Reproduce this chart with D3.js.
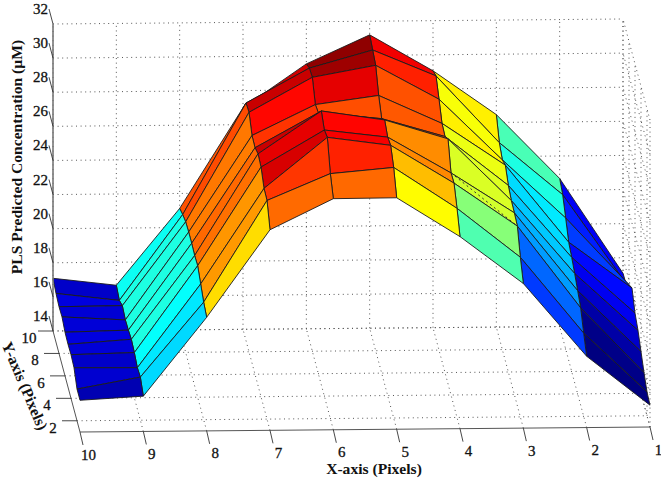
<!DOCTYPE html>
<html lang="en">
<head>
  <meta charset="UTF-8">
  <title>PLS Predicted Concentration</title>
  <script src="https://cdnjs.cloudflare.com/ajax/libs/d3/7.8.5/d3.min.js"></script>
  <style>
    html, body { margin: 0; padding: 0; background: #fff; }
    svg { display: block; }
    text { font-family: "Liberation Serif", serif; fill: #111; }
    .tick-label { font-size: 15px; stroke: #111; stroke-width: 0.3; }
    .axis-title { font-size: 15.6px; font-weight: bold; }
    .grid { fill: none; stroke: #555; stroke-width: 1; stroke-dasharray: 1 3.6; }
    .cell { stroke: #1c1c1c; stroke-width: 0.9; stroke-linejoin: round; }
  </style>
</head>
<body>
<div id="chart"></div>
<script>
var xTicks = [1, 2, 3, 4, 5, 6, 7, 8, 9, 10];
var yTicks = [2, 4, 6, 8, 10];
var zTicks = [14, 16, 18, 20, 22, 24, 26, 28, 30, 32];
var yValues = [1, 2, 3, 4, 5, 6, 7, 8, 9, 10];

// predicted concentration, one list per x pixel, y pixel 1 to 10
var zX1 = [15.28, 15.40, 15.87, 16.45, 17.03, 17.39, 18.20, 17.74, 17.15, 17.09];
var zX2 = [18.18, 18.88, 19.70, 20.05, 20.40, 20.69, 20.92, 21.68, 22.39, 22.68];
var zX3 = [22.48, 23.36, 24.53, 24.65, 24.71, 24.94, 25.47, 25.12, 25.47, 26.46];
var zX4 = [25.26, 26.26, 27.08, 27.02, 28.36, 27.84, 27.95, 28.71, 29.42, 29.06];
var zX5 = [27.57, 28.69, 29.33, 29.15, 29.50, 28.92, 29.62, 30.73, 30.97, 31.20];
var zX6 = [27.55, 28.36, 29.83, 29.60, 30.06, 29.30, 29.12, 30.06, 29.94, 29.53];
var zX7 = [25.76, 26.82, 26.87, 27.46, 27.58, 27.28, 27.34, 28.04, 27.93, 26.99];
var zX8 = [20.66, 20.89, 21.30, 21.71, 21.65, 21.71, 21.71, 21.65, 21.42, 21.12];
var zX9 = [16.07, 16.53, 16.42, 16.65, 16.77, 16.65, 16.59, 16.77, 16.42, 16.65];
var zX10 = [15.86, 15.86, 16.45, 16.56, 16.51, 16.56, 16.80, 16.74, 16.86, 17.09];
var surface = [zX1, zX2, zX3, zX4, zX5, zX6, zX7, zX8, zX9, zX10];

// two cells of the y=6 row read orange in the picture, lower than their corner height
var colourOverrides = [[4, 5, 28.0], [5, 5, 28.4]];

var width = 661, height = 480;

var svg = d3.select("#chart").append("svg")
  .attr("width", width)
  .attr("height", height);

// oblique view of the box, back wall at y=10, right wall at x=1
var xScale = d3.scaleLinear().domain([1, 10]).range([650, 80]);
var yShiftX = d3.scaleLinear().domain([1, 10]).range([0, -27]);
var yScale = d3.scaleLinear().domain([1, 10]).range([432, 331]);
var tilt = d3.scaleLinear().domain([1, 10]).range([-5, 0]);
var zScale = d3.scaleLinear().domain([14, 32]).range([0, -307]);

function project(x, y, z) {
  return [xScale(x) + yShiftX(y), yScale(y) + tilt(x) + zScale(z)];
}

var line = d3.line();

function gridLine(a, b) {
  svg.append("path").attr("class", "grid").attr("d", line([project.apply(null, a), project.apply(null, b)]));
}

// back wall
zTicks.forEach(function(z) { gridLine([10, 10, z], [1, 10, z]); });
xTicks.forEach(function(x) { gridLine([x, 10, 14], [x, 10, 32]); });
// floor
xTicks.slice(0, 9).forEach(function(x) { gridLine([x, 1, 14], [x, 10, 14]); });
yTicks.forEach(function(y) { gridLine([10, y, 14], [1, y, 14]); });
// right wall
zTicks.forEach(function(z) { gridLine([1, 1, z], [1, 10, z]); });
yTicks.forEach(function(y) { gridLine([1, y, 14], [1, y, 32]); });
gridLine([1, 1, 14], [1, 1, 32]);

// jet colormap on the data range
var allZ = d3.merge(surface);
var zRange = d3.extent(allZ);
var jetPos = d3.scaleLinear().domain(zRange).range([0, 1]);
var jet = d3.scaleLinear()
  .domain([0, 0.125, 0.375, 0.625, 0.875, 1])
  .range(["#000080", "#0000ff", "#00ffff", "#ffff00", "#ff0000", "#800000"]);

function cellLevel(i, j) {
  var o = colourOverrides.find(function(c) { return c[0] === i && c[1] === j; });
  return o ? o[2] : surface[i][j];
}

// cells back to front, coloured by their lower corner like surf does
var cells = [];
d3.range(8, -1, -1).forEach(function(j) {
  d3.range(0, 9).forEach(function(i) {
    cells.push({ i: i, j: j });
  });
});

svg.selectAll(".cell")
  .data(cells)
  .enter().append("path")
  .attr("class", "cell")
  .attr("fill", function(d) { return jet(jetPos(cellLevel(d.i, d.j))); })
  .attr("d", function(d) {
    var corners = [[d.i, d.j], [d.i + 1, d.j], [d.i + 1, d.j + 1], [d.i, d.j + 1]];
    return line(corners.map(function(c) {
      return project(xTicks[c[0]], yValues[c[1]], surface[c[0]][c[1]]);
    })) + "Z";
  });

// the dotted crease across the green cell between x=4 and x=3
svg.append("path")
  .attr("fill", "none").attr("stroke", "#333").attr("stroke-width", 1).attr("stroke-dasharray", "2 3")
  .attr("d", line([project(4, 4, surface[3][3]), project(3, 3, surface[2][2])]));

// axis lines
function axisLine(a, b, color, w) {
  svg.append("path").attr("fill", "none").attr("stroke", color).attr("stroke-width", w)
    .attr("d", line([a, b]));
}
axisLine(project(10, 10, 14), project(10, 10, 32), "#777", 1.6);
axisLine(project(10, 10, 14), project(10, 1, 14), "#555", 1);
axisLine(project(10, 1, 14), project(1, 1, 14), "#555", 1);

// z ticks
zTicks.forEach(function(z) {
  var p = project(10, 10, z);
  axisLine(p, [p[0] - 4, p[1] - 15], "#333", 0.9);
  svg.append("text").attr("class", "tick-label")
    .attr("x", p[0] - 5).attr("y", p[1] - 10)
    .attr("text-anchor", "end")
    .text(z);
});

// y ticks
yTicks.forEach(function(y) {
  var p = project(10, y, 14);
  axisLine(p, [p[0] - 15, p[1]], "#333", 0.9);
  svg.append("text").attr("class", "tick-label")
    .attr("x", p[0] - 24).attr("y", p[1] + 12)
    .attr("text-anchor", "middle")
    .text(y);
});

// x ticks
xTicks.forEach(function(x) {
  var p = project(x, 1, 14);
  axisLine(p, [p[0] + 3, p[1] + 13], "#333", 0.9);
  svg.append("text").attr("class", "tick-label")
    .attr("x", p[0] + 8.5).attr("y", p[1] + 27.5)
    .attr("text-anchor", "middle")
    .text(x);
});

// axis titles
svg.append("text").attr("class", "axis-title")
  .attr("text-anchor", "middle")
  .attr("transform", "translate(22,157) rotate(-90)")
  .text("PLS Predicted Concentration (\u00b5M)");
svg.append("text").attr("class", "axis-title")
  .attr("x", 374).attr("y", 474)
  .attr("text-anchor", "middle")
  .text("X-axis (Pixels)");
svg.append("text").attr("class", "axis-title")
  .attr("text-anchor", "middle")
  .attr("transform", "translate(20,388) rotate(67)")
  .text("Y-axis (Pixels)");
</script>
</body>
</html>
